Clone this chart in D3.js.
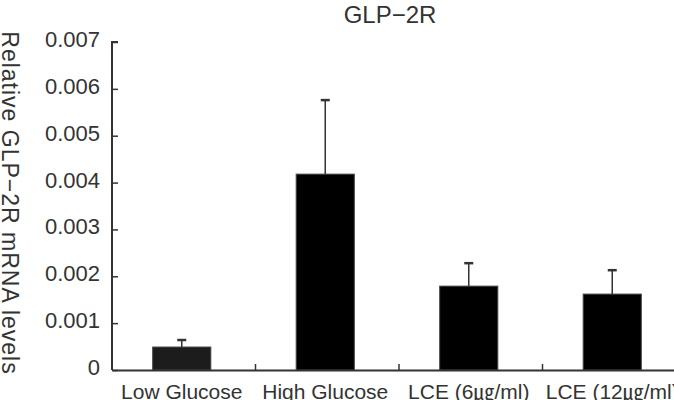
<!DOCTYPE html>
<html>
<head>
<meta charset="utf-8">
<script src="https://cdn.jsdelivr.net/npm/d3@7"></script>
<style>
  html, body { margin: 0; padding: 0; background: #fff; }
  svg { display: block; }
  text { font-family: "Liberation Sans", Arial, "Noto Sans CJK KR", sans-serif; fill: #333; }
</style>
</head>
<body>
<svg id="chart" width="674" height="400"></svg>
<script>
// data
const categories = ['Low Glucose', 'High Glucose', 'LCE (6㎍/ml)', 'LCE (12㎍/ml)']
const means = [0.00049, 0.00418, 0.00179, 0.00162]
const errors = [0.00015, 0.00158, 0.00049, 0.00051]
const yTicks = [0, 0.001, 0.002, 0.003, 0.004, 0.005, 0.006, 0.007]

const barColors = ['#1c1c1c', '#000', '#000', '#000']

const width = 674
const height = 400
const margin = { top: 42, right: -12, bottom: 30, left: 112 }

const svg = d3.select('#chart')

const xScale = d3.scaleBand()
  .domain(categories)
  .range([margin.left, width - margin.right])
  .padding(0)

const yScale = d3.scaleLinear()
  .domain([0, 0.007])
  .range([height - margin.bottom, margin.top])

const barW = xScale.bandwidth() * 0.405

// title
svg.append('text')
  .attr('x', 390)
  .attr('y', 23)
  .attr('text-anchor', 'middle')
  .style('font-size', '24px')
  .text('GLP−2R')

// y axis title
svg.append('text')
  .attr('transform', 'translate(2,203) rotate(90)')
  .attr('text-anchor', 'middle')
  .style('font-size', '23px')
  .style('letter-spacing', '1px')
  .text('Relative GLP−2R mRNA levels')

// bars
svg.append('g')
  .selectAll('rect')
  .data(means)
  .join('rect')
    .attr('x', (d, i) => xScale(categories[i]) + xScale.bandwidth() / 2 - barW / 2 - 2)
    .attr('y', d => yScale(d))
    .attr('width', barW)
    .attr('height', d => yScale(0) - yScale(d))
    .attr('fill', (d, i) => barColors[i])
    .attr('stroke', '#444')
    .attr('stroke-width', 1)

// error bars (upper only)
const err = svg.append('g')
  .attr('stroke', '#333')
  .attr('stroke-width', 1.5)

means.forEach((m, i) => {
  const cx = xScale(categories[i]) + xScale.bandwidth() / 2 - 2
  err.append('line')
    .attr('x1', cx).attr('x2', cx)
    .attr('y1', yScale(m)).attr('y2', yScale(m + errors[i]))
  err.append('line')
    .attr('x1', cx - 4.5).attr('x2', cx + 4.5)
    .attr('y1', yScale(m + errors[i])).attr('y2', yScale(m + errors[i]))
    .attr('stroke-width', 2.5)
})

// y axis
const yAxis = d3.axisRight(yScale)
  .tickValues(yTicks)
  .tickSize(6)
  .tickFormat('')

const gy = svg.append('g')
  .attr('transform', 'translate(' + margin.left + ',0)')
  .call(yAxis)

gy.select('.domain')
  .attr('d', 'M6,' + yScale(0.007) + 'H0V' + yScale(0))
gy.selectAll('line').attr('stroke', '#333').attr('stroke-width', 1.5)
gy.select('.domain').attr('stroke', '#333').attr('stroke-width', 2)

svg.append('g')
  .selectAll('text')
  .data(yTicks)
  .join('text')
    .attr('x', margin.left - 12)
    .attr('y', d => yScale(d) + 5)
    .attr('text-anchor', 'end')
    .style('font-size', '22px')
    .text(d => d === 0 ? '0' : d3.format('.3f')(d))

// x axis: line at zero with small ticks between categories
const gx = svg.append('g')
  .attr('transform', 'translate(0,' + yScale(0) + ')')
  .call(d3.axisBottom(xScale).tickSize(0).tickFormat(''))

gx.select('.domain').attr('stroke', '#333').attr('stroke-width', 2)
gx.selectAll('.tick').remove()

gx.selectAll('.sep')
  .data(categories.slice(1))
  .join('line')
    .attr('class', 'sep')
    .attr('x1', d => xScale(d)).attr('x2', d => xScale(d))
    .attr('y1', 0).attr('y2', -6)
    .attr('stroke', '#333')
    .attr('stroke-width', 1.5)

svg.append('g')
  .selectAll('text')
  .data(categories)
  .join('text')
    .attr('x', d => xScale(d) + xScale.bandwidth() / 2 - 2)
    .attr('y', height - 1)
    .attr('text-anchor', 'middle')
    .style('font-size', '21px')
    .text(d => d)
</script>
</body>
</html>
